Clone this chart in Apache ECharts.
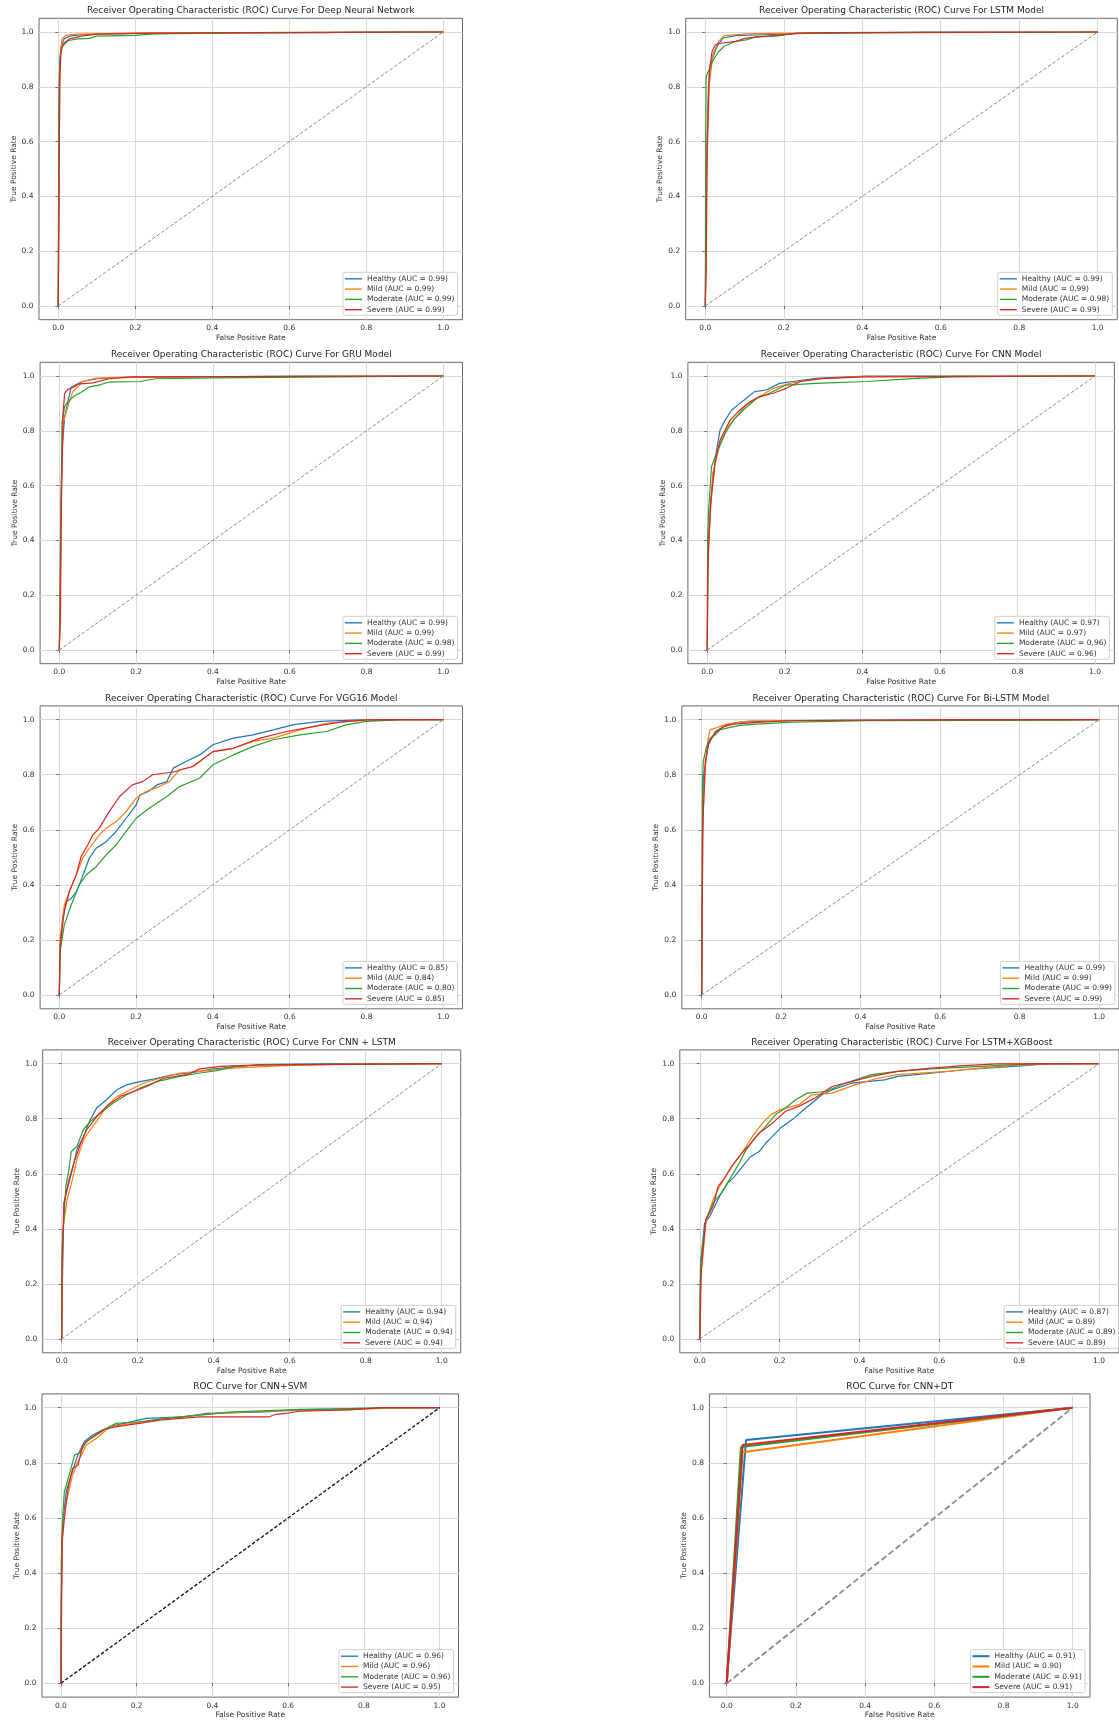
<!DOCTYPE html>
<html><head><meta charset="utf-8">
<script src="https://cdn.jsdelivr.net/npm/echarts@6.0.0/dist/echarts.min.js"></script>
<style>html,body{margin:0;padding:0;background:#fff}#c{width:1119px;height:1722px}</style>
</head><body><div id="c"></div>
<script>
// ---------- DATA ----------
const classNames = ['Healthy', 'Mild', 'Moderate', 'Severe'];
const tickValues = [0, 0.2, 0.4, 0.6, 0.8, 1.0];
const chanceLine = [[0, 0], [1, 1]];

const titles = [
  'Receiver Operating Characteristic (ROC) Curve For Deep Neural Network',
  'Receiver Operating Characteristic (ROC) Curve For LSTM Model',
  'Receiver Operating Characteristic (ROC) Curve For GRU Model',
  'Receiver Operating Characteristic (ROC) Curve For CNN Model',
  'Receiver Operating Characteristic (ROC) Curve For VGG16 Model',
  'Receiver Operating Characteristic (ROC) Curve For Bi-LSTM Model',
  'Receiver Operating Characteristic (ROC) Curve For CNN + LSTM',
  'Receiver Operating Characteristic (ROC) Curve For LSTM+XGBoost',
  'ROC Curve for CNN+SVM',
  'ROC Curve for CNN+DT'
];

const dnnAuc = [0.99, 0.99, 0.99, 0.99];
const lstmAuc = [0.99, 0.99, 0.98, 0.99];
const gruAuc = [0.99, 0.99, 0.98, 0.99];
const cnnAuc = [0.97, 0.97, 0.96, 0.96];
const vggAuc = [0.85, 0.84, 0.80, 0.85];
const bilstmAuc = [0.99, 0.99, 0.99, 0.99];
const cnnlstmAuc = [0.94, 0.94, 0.94, 0.94];
const lstmxgbAuc = [0.87, 0.89, 0.89, 0.89];
const cnnsvmAuc = [0.96, 0.96, 0.96, 0.95];
const cnndtAuc = [0.91, 0.90, 0.91, 0.91];

// Deep Neural Network
const dnn_healthy = [[0,0],[0.001,0.3],[0.002,0.75],[0.004,0.9],[0.008,0.95],[0.015,0.975],[0.03,0.985],[0.06,0.99],[0.13,0.993],[0.3,0.997],[0.7,0.998],[0.8,1],[1,1]];
const dnn_mild = [[0,0],[0.002,0.4],[0.004,0.8],[0.006,0.93],[0.01,0.975],[0.02,0.988],[0.05,0.992],[0.2,0.996],[0.45,0.998],[1,1]];
const dnn_moderate = [[0,0],[0.001,0.5],[0.003,0.85],[0.006,0.92],[0.012,0.95],[0.025,0.968],[0.05,0.975],[0.08,0.977],[0.1,0.985],[0.2,0.988],[0.25,0.993],[0.45,0.997],[0.6,0.998],[1,1]];
const dnn_severe = [[0,0],[0.002,0.4],[0.004,0.85],[0.008,0.94],[0.015,0.96],[0.03,0.975],[0.06,0.985],[0.1,0.992],[0.2,0.995],[0.5,0.998],[1,1]];

// LSTM
const lstm_healthy = [[0,0],[0.003,0.5],[0.008,0.8],[0.013,0.885],[0.03,0.948],[0.045,0.978],[0.078,0.987],[0.146,0.99],[0.25,0.995],[0.57,1],[1,1]];
const lstm_mild = [[0,0],[0.004,0.5],[0.01,0.81],[0.02,0.921],[0.034,0.966],[0.048,0.987],[0.104,0.993],[0.23,0.996],[0.3,0.998],[1,1]];
const lstm_moderate = [[0,0],[0.001,0.6],[0.002,0.837],[0.02,0.898],[0.034,0.928],[0.048,0.948],[0.078,0.966],[0.104,0.971],[0.13,0.983],[0.18,0.985],[0.23,0.995],[0.36,0.997],[0.95,0.999],[1,1]];
const lstm_severe = [[0,0],[0.002,0.12],[0.005,0.6],[0.01,0.85],[0.017,0.928],[0.025,0.952],[0.034,0.958],[0.078,0.966],[0.104,0.978],[0.16,0.985],[0.23,0.995],[0.315,0.998],[1,1]];

// GRU
const gru_healthy = [[0,0],[0.004,0.5],[0.007,0.73],[0.014,0.852],[0.031,0.96],[0.06,0.98],[0.1,0.99],[0.17,0.995],[0.65,1],[1,1]];
const gru_mild = [[0,0],[0.004,0.5],[0.01,0.83],[0.022,0.887],[0.035,0.943],[0.061,0.98],[0.095,0.992],[0.156,0.995],[0.36,0.998],[1,1]];
const gru_moderate = [[0,0],[0.002,0.13],[0.005,0.55],[0.007,0.83],[0.014,0.89],[0.026,0.91],[0.039,0.928],[0.056,0.94],[0.078,0.96],[0.1,0.966],[0.13,0.978],[0.21,0.98],[0.25,0.99],[0.4,0.993],[0.73,0.997],[1,1]];
const gru_severe = [[0,0],[0.003,0.13],[0.005,0.5],[0.01,0.87],[0.014,0.937],[0.022,0.951],[0.039,0.96],[0.048,0.97],[0.087,0.975],[0.13,0.99],[0.19,0.997],[1,1]];

// CNN
const cnn_healthy = [[0,0],[0.001,0.2],[0.003,0.401],[0.011,0.584],[0.024,0.73],[0.033,0.803],[0.046,0.839],[0.063,0.876],[0.084,0.9],[0.1,0.918],[0.122,0.943],[0.152,0.949],[0.186,0.973],[0.22,0.98],[0.28,0.991],[0.41,1],[1,1]];
const cnn_mild = [[0,0],[0.001,0.2],[0.003,0.376],[0.014,0.645],[0.033,0.755],[0.054,0.815],[0.075,0.852],[0.1,0.894],[0.135,0.925],[0.17,0.955],[0.213,0.973],[0.28,0.989],[0.41,0.999],[1,1]];
const cnn_moderate = [[0,0],[0.001,0.4],[0.003,0.5],[0.011,0.67],[0.024,0.718],[0.046,0.79],[0.067,0.839],[0.093,0.876],[0.127,0.918],[0.16,0.937],[0.203,0.967],[0.28,0.973],[0.41,0.98],[0.54,0.991],[0.63,0.997],[0.94,1],[1,1]];
const cnn_severe = [[0,0],[0.001,0.28],[0.008,0.524],[0.021,0.693],[0.033,0.766],[0.059,0.839],[0.084,0.876],[0.11,0.906],[0.135,0.925],[0.17,0.937],[0.203,0.955],[0.24,0.98],[0.3,0.991],[0.41,0.997],[1,1]];

// VGG16
const vgg_healthy = [[0,0],[0.002,0.157],[0.009,0.279],[0.018,0.339],[0.031,0.351],[0.044,0.375],[0.052,0.4],[0.065,0.448],[0.078,0.497],[0.096,0.533],[0.122,0.557],[0.148,0.594],[0.174,0.642],[0.2,0.69],[0.21,0.727],[0.232,0.739],[0.254,0.763],[0.28,0.775],[0.297,0.824],[0.33,0.848],[0.366,0.872],[0.4,0.909],[0.453,0.933],[0.505,0.945],[0.557,0.963],[0.61,0.982],[0.68,0.994],[0.8,1],[1,1]];
const vgg_mild = [[0,0],[0.002,0.206],[0.013,0.327],[0.026,0.375],[0.044,0.436],[0.061,0.497],[0.078,0.533],[0.104,0.581],[0.122,0.606],[0.148,0.63],[0.174,0.666],[0.2,0.715],[0.226,0.739],[0.26,0.757],[0.287,0.775],[0.313,0.818],[0.348,0.83],[0.4,0.884],[0.453,0.896],[0.505,0.921],[0.557,0.933],[0.627,0.963],[0.696,0.987],[0.8,0.999],[1,1]];
const vgg_moderate = [[0,0],[0.002,0.157],[0.013,0.254],[0.031,0.327],[0.052,0.4],[0.07,0.436],[0.096,0.466],[0.122,0.509],[0.148,0.545],[0.174,0.594],[0.2,0.642],[0.235,0.679],[0.28,0.721],[0.313,0.757],[0.366,0.788],[0.4,0.836],[0.453,0.872],[0.505,0.903],[0.557,0.927],[0.627,0.945],[0.696,0.957],[0.748,0.982],[0.8,0.994],[0.887,1],[1,1]];
const vgg_severe = [[0,0],[0.002,0.181],[0.013,0.303],[0.026,0.375],[0.044,0.436],[0.057,0.503],[0.074,0.545],[0.087,0.581],[0.104,0.606],[0.13,0.666],[0.157,0.721],[0.19,0.763],[0.217,0.775],[0.243,0.8],[0.297,0.81],[0.348,0.83],[0.4,0.884],[0.453,0.896],[0.523,0.933],[0.592,0.957],[0.661,0.975],[0.731,0.991],[0.8,0.999],[1,1]];

// Bi-LSTM
const bilstm_healthy = [[0,0],[0.002,0.4],[0.004,0.788],[0.017,0.909],[0.034,0.957],[0.063,0.981],[0.096,0.991],[0.25,0.997],[0.73,1],[1,1]];
const bilstm_mild = [[0,0],[0.003,0.642],[0.009,0.824],[0.015,0.921],[0.021,0.963],[0.038,0.971],[0.063,0.984],[0.121,0.996],[1,1]];
const bilstm_moderate = [[0,0],[0.001,0.279],[0.002,0.763],[0.004,0.848],[0.011,0.896],[0.021,0.933],[0.034,0.945],[0.046,0.963],[0.063,0.969],[0.096,0.979],[0.138,0.984],[0.23,0.991],[0.415,0.996],[0.9,0.998],[1,1]];
const bilstm_severe = [[0,0],[0.001,0.28],[0.002,0.58],[0.009,0.848],[0.017,0.915],[0.034,0.951],[0.055,0.975],[0.08,0.984],[0.147,0.991],[0.23,0.997],[0.58,0.999],[1,1]];

// CNN + LSTM
const cnnlstm_healthy = [[0,0],[0.001,0.154],[0.006,0.493],[0.014,0.542],[0.028,0.614],[0.04,0.687],[0.057,0.735],[0.075,0.796],[0.092,0.839],[0.118,0.869],[0.145,0.905],[0.171,0.923],[0.206,0.935],[0.241,0.944],[0.294,0.96],[0.346,0.968],[0.399,0.981],[0.452,0.988],[0.522,0.997],[0.733,1],[1,1]];
const cnnlstm_mild = [[0,0],[0.003,0.397],[0.014,0.505],[0.028,0.578],[0.04,0.651],[0.057,0.723],[0.075,0.76],[0.092,0.79],[0.118,0.845],[0.145,0.881],[0.18,0.905],[0.215,0.929],[0.259,0.947],[0.311,0.966],[0.381,0.975],[0.452,0.984],[0.584,0.993],[0.75,0.998],[1,1]];
const cnnlstm_moderate = [[0,0],[0.001,0.337],[0.011,0.554],[0.019,0.614],[0.025,0.681],[0.04,0.699],[0.057,0.76],[0.075,0.79],[0.101,0.82],[0.136,0.857],[0.171,0.887],[0.206,0.911],[0.25,0.935],[0.311,0.954],[0.364,0.966],[0.408,0.975],[0.452,0.99],[0.54,0.996],[1,1]];
const cnnlstm_severe = [[0,0],[0.001,0.275],[0.006,0.493],[0.019,0.578],[0.032,0.639],[0.05,0.711],[0.066,0.76],[0.092,0.808],[0.118,0.845],[0.154,0.881],[0.189,0.899],[0.224,0.917],[0.268,0.947],[0.329,0.96],[0.364,0.981],[0.417,0.99],[0.505,0.995],[1,1]];

// LSTM + XGBoost
const lstmxgb_healthy = [[0,0],[0.002,0.275],[0.012,0.42],[0.025,0.445],[0.037,0.481],[0.054,0.53],[0.07,0.566],[0.087,0.59],[0.107,0.627],[0.128,0.663],[0.149,0.681],[0.165,0.711],[0.182,0.736],[0.202,0.766],[0.231,0.796],[0.256,0.827],[0.281,0.857],[0.306,0.887],[0.331,0.905],[0.38,0.929],[0.463,0.941],[0.496,0.954],[0.579,0.966],[0.661,0.978],[0.785,0.99],[0.868,0.999],[1,1]];
const lstmxgb_mild = [[0,0],[0.002,0.214],[0.015,0.42],[0.033,0.505],[0.05,0.554],[0.074,0.614],[0.099,0.663],[0.116,0.699],[0.132,0.736],[0.157,0.784],[0.178,0.815],[0.202,0.833],[0.248,0.851],[0.281,0.887],[0.331,0.893],[0.388,0.923],[0.446,0.947],[0.496,0.96],[0.62,0.972],[0.703,0.984],[0.785,0.994],[0.868,0.999],[1,1]];
const lstmxgb_moderate = [[0,0],[0.002,0.275],[0.015,0.433],[0.033,0.493],[0.054,0.53],[0.074,0.578],[0.099,0.639],[0.116,0.687],[0.141,0.736],[0.165,0.772],[0.19,0.815],[0.215,0.839],[0.24,0.869],[0.269,0.893],[0.314,0.899],[0.364,0.929],[0.43,0.96],[0.496,0.972],[0.579,0.981],[0.703,0.99],[0.827,0.999],[1,1]];
const lstmxgb_severe = [[0,0],[0.004,0.251],[0.015,0.433],[0.033,0.481],[0.046,0.554],[0.062,0.584],[0.083,0.633],[0.099,0.663],[0.124,0.705],[0.149,0.748],[0.182,0.784],[0.215,0.827],[0.248,0.845],[0.289,0.875],[0.331,0.917],[0.38,0.935],[0.43,0.954],[0.496,0.972],[0.579,0.984],[0.661,0.993],[0.744,0.999],[1,1]];

// CNN + SVM
const cnnsvm_healthy = [[0,0],[0.001,0.3],[0.004,0.574],[0.014,0.695],[0.027,0.756],[0.045,0.829],[0.062,0.877],[0.084,0.901],[0.11,0.919],[0.146,0.937],[0.225,0.961],[0.322,0.967],[0.383,0.979],[0.541,0.985],[0.629,0.994],[0.805,0.997],[1,1]];
const cnnsvm_mild = [[0,0],[0.001,0.3],[0.005,0.574],[0.014,0.659],[0.031,0.756],[0.045,0.804],[0.067,0.865],[0.094,0.889],[0.129,0.931],[0.19,0.943],[0.278,0.961],[0.41,0.979],[0.541,0.987],[0.717,0.991],[0.849,0.997],[1,1]];
const cnnsvm_moderate = [[0,0],[0.001,0.453],[0.005,0.61],[0.009,0.695],[0.022,0.756],[0.036,0.829],[0.05,0.835],[0.067,0.877],[0.094,0.901],[0.12,0.925],[0.146,0.943],[0.207,0.949],[0.278,0.961],[0.366,0.973],[0.454,0.985],[0.585,0.991],[0.717,0.995],[0.849,1],[1,1]];
const cnnsvm_severe = [[0,0],[0.001,0.14],[0.003,0.513],[0.01,0.61],[0.019,0.707],[0.031,0.78],[0.045,0.792],[0.058,0.865],[0.084,0.895],[0.11,0.919],[0.146,0.931],[0.207,0.943],[0.26,0.955],[0.366,0.967],[0.55,0.967],[0.568,0.976],[0.594,0.979],[0.629,0.987],[0.761,0.992],[0.849,1],[1,1]];

// CNN + DT
const cnndt_healthy = [[0,0],[0.056,0.883],[1,1]];
const cnndt_mild = [[0,0],[0.046,0.838],[1,1]];
const cnndt_moderate = [[0,0],[0.041,0.857],[1,1]];
const cnndt_severe = [[0,0],[0.046,0.865],[1,1]];

// ---------- LAYOUT / STYLE ----------
const W = 1119, H = 1722;
const FONT = 'DejaVu Sans';
const COLORS = ['#1f77b4', '#ff7f0e', '#2ca02c', '#d62728'];
const LEGEND_ICON = 'path://M0,0H20V1.6H0Z';
// plot frames [left, top, right, bottom] in px
const frames = [
  [39, 18.3, 462.5, 319.7],
  [685.7, 18.3, 1117.3, 319.7],
  [40.1, 362.3, 462.5, 663.7],
  [687.9, 362.3, 1114.4, 663.7],
  [40.1, 705.9, 462.5, 1008.8],
  [681.8, 705.9, 1119.9, 1008.8],
  [42.7, 1049.9, 460.7, 1352.8],
  [679.8, 1049.9, 1123.5, 1352.8],
  [42, 1393.9, 458.5, 1697.1],
  [709.4, 1393.9, 1090, 1697.1]
];

const panels = [
  { auc: dnnAuc, curves: [dnn_healthy, dnn_mild, dnn_moderate, dnn_severe] },
  { auc: lstmAuc, curves: [lstm_healthy, lstm_mild, lstm_moderate, lstm_severe] },
  { auc: gruAuc, curves: [gru_healthy, gru_mild, gru_moderate, gru_severe] },
  { auc: cnnAuc, curves: [cnn_healthy, cnn_mild, cnn_moderate, cnn_severe] },
  { auc: vggAuc, curves: [vgg_healthy, vgg_mild, vgg_moderate, vgg_severe] },
  { auc: bilstmAuc, curves: [bilstm_healthy, bilstm_mild, bilstm_moderate, bilstm_severe] },
  { auc: cnnlstmAuc, curves: [cnnlstm_healthy, cnnlstm_mild, cnnlstm_moderate, cnnlstm_severe] },
  { auc: lstmxgbAuc, curves: [lstmxgb_healthy, lstmxgb_mild, lstmxgb_moderate, lstmxgb_severe] },
  { auc: cnnsvmAuc, curves: [cnnsvm_healthy, cnnsvm_mild, cnnsvm_moderate, cnnsvm_severe] },
  { auc: cnndtAuc, curves: [cnndt_healthy, cnndt_mild, cnndt_moderate, cnndt_severe] }
];

const grid = [], xAxis = [], yAxis = [], series = [], legend = [], graphic = [];

panels.forEach((p, i) => {
  const [L, T, R, B] = frames[i];
  grid.push({
    left: L, top: T, width: R - L, height: B - T,
    show: true, borderColor: '#6a6a6a', borderWidth: 1, backgroundColor: '#fff',
    containLabel: false
  });
  const axisCommon = {
    gridIndex: i, type: 'value', min: -0.05, max: 1.05,
    nameLocation: 'middle',
    nameTextStyle: { fontSize: 7.5, color: '#333', fontFamily: FONT },
    axisLine: { show: false },
    axisTick: { show: true, inside: false, length: 3, customValues: tickValues, lineStyle: { color: '#555', width: 0.8 } },
    axisLabel: { customValues: tickValues, formatter: v => v.toFixed(1), fontSize: 7.5, color: '#333', fontFamily: FONT },
    splitLine: { show: true, lineStyle: { color: '#d9d9d9', width: 1 } }
  };
  xAxis.push(Object.assign({}, axisCommon, {
    name: 'False Positive Rate', nameGap: 14,
    axisLabel: Object.assign({}, axisCommon.axisLabel, { margin: 4.5 })
  }));
  yAxis.push(Object.assign({}, axisCommon, {
    name: 'True Positive Rate', nameGap: 20, nameRotate: 90,
    axisLabel: Object.assign({}, axisCommon.axisLabel, { margin: 5.5 })
  }));

  const isDT = i === 9;
  const isSVM = i === 8;
  const names = [];
  p.curves.forEach((c, k) => {
    const nm = classNames[k] + ' (AUC = ' + p.auc[k].toFixed(2) + ')';
    names.push({ name: nm, icon: isDT ? 'path://M0,0H20V2.4H0Z' : LEGEND_ICON, itemStyle: { color: COLORS[k] } });
    series.push({
      type: 'line', name: nm, xAxisIndex: i, yAxisIndex: i, data: c,
      symbol: 'none', showSymbol: false, smooth: false, silent: true, animation: false,
      color: COLORS[k],
      itemStyle: { color: COLORS[k] },
      lineStyle: { color: COLORS[k], width: isDT ? 2 : 1.2 }
    });
  });
  series.push({
    type: 'line', name: 'chance', xAxisIndex: i, yAxisIndex: i, data: chanceLine,
    symbol: 'none', showSymbol: false, silent: true, animation: false,
    lineStyle: { color: isSVM ? '#111' : '#8a8a8a', width: isDT ? 1.8 : (isSVM ? 1.3 : 1), type: isDT ? [6, 3] : [3.5, 2] }
  });

  legend.push({
    data: names, orient: 'vertical',
    right: Math.max(0.5, W - (R - 5)), bottom: H - (B - 4.5),
    itemWidth: 17, itemHeight: 9, itemGap: 1.3,
    symbolKeepAspect: true,
    padding: [2, 3, 1, 2],
    borderColor: '#cfcfcf', borderWidth: 1, borderRadius: 2,
    backgroundColor: 'rgba(255,255,255,0.85)',
    textStyle: { fontSize: 7.5, color: '#333', fontFamily: FONT, lineHeight: 9 },
    selectedMode: false
  });

  graphic.push({
    type: 'text', x: (L + R) / 2, y: T - 7.6, silent: true,
    style: {
      text: titles[i], fontSize: 9, fontFamily: FONT, fill: '#222',
      align: 'center', verticalAlign: 'middle', textAlign: 'center', textVerticalAlign: 'middle'
    }
  });
});

const chart = echarts.init(document.getElementById('c'), null, { renderer: 'canvas', width: W, height: H });
chart.setOption({
  backgroundColor: '#fff',
  animation: false,
  textStyle: { fontFamily: FONT },
  grid, xAxis, yAxis, series, legend, graphic
});
</script></body></html>
